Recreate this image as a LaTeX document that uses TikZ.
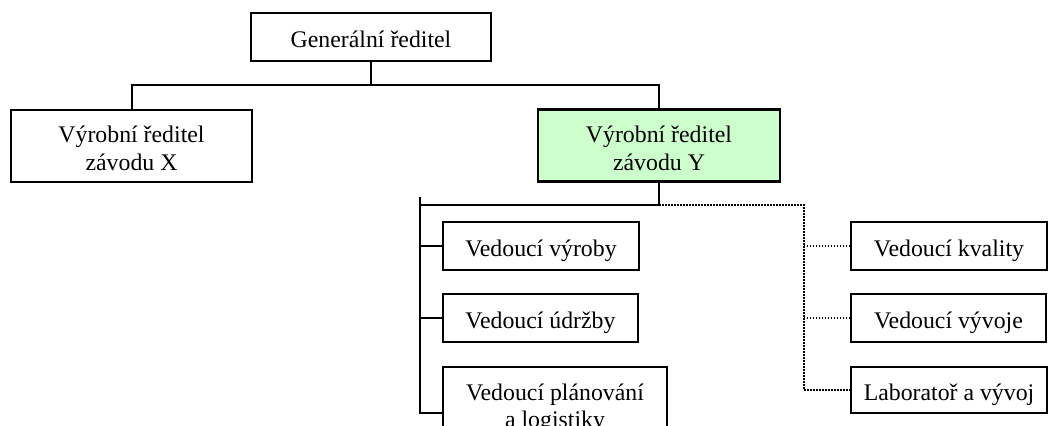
\documentclass[tikz,border=0pt]{standalone}
\usepackage{fontspec}
\setmainfont{Liberation Serif}
% one line of box text, baseline set a fixed distance below the box centre
\newcommand{\oneline}[1]{\raisebox{-10.5pt}[0pt][0pt]{#1}}
% two centred lines of box text, first baseline just above the box centre
\newcommand{\twolines}[2]{\raisebox{3pt}[0pt][0pt]{\begin{tabular}[t]{@{}c@{}}#1\\#2\end{tabular}}}
\begin{document}
\begin{tikzpicture}[x=1pt,y=-1pt,
  orgbox/.style={draw=black, line width=2pt, fill=white, inner sep=0pt,
    font=\fontsize{23.8}{27.5}\selectfont},
  chosen/.style={orgbox, fill=green!20, line width=2.8pt},
  link/.style={line width=2pt},
  staff/.style={line width=1.5pt, dash pattern=on 1.5pt off 1.5pt}]
  \clip (0,0) rectangle (1053,426);
  \fill[white] (0,0) rectangle (1053,426);

  % top level
  \node[orgbox, minimum width=240pt, minimum height=48pt] (gr) at (371,37) {\oneline{Generální ředitel}};
  \node[orgbox, minimum width=241pt, minimum height=72pt] (vx) at (131.5,145.5) {\twolines{Výrobní ředitel}{závodu X}};
  \node[chosen, minimum width=242pt, minimum height=72pt] (vy) at (659,145.5) {\twolines{Výrobní ředitel}{závodu Y}};

  % line subordinates
  \node[orgbox, minimum width=196pt, minimum height=48pt] (vv) at (541,246) {\oneline{Vedoucí výroby}};
  \node[orgbox, minimum width=195pt, minimum height=48pt] (vu) at (540.5,318) {\oneline{Vedoucí údržby}};
  \node[orgbox, minimum width=224pt, minimum height=72pt] (vp) at (555,403) {\twolines{Vedoucí plánování}{a logistiky}};

  % staff units
  \node[orgbox, minimum width=196pt, minimum height=48pt] (vk) at (949,246) {\oneline{Vedoucí kvality}};
  \node[orgbox, minimum width=195pt, minimum height=48pt] (vr) at (948.5,318) {\oneline{Vedoucí vývoje}};
  \node[orgbox, minimum width=196pt, minimum height=46pt] (lab) at (949,390) {\oneline{Laboratoř a vývoj}};

  % junction points
  \coordinate (j1) at (371,85);
  \coordinate (j2) at (659,205);
  \coordinate (btop) at (420,197);
  \coordinate (bbot) at (420,413);
  \coordinate (stop) at (804,205);

  % top connectors
  \draw[link] (gr.south) -- (j1);
  \draw[link] (vx.north) |- (j1) -| (vy.north);

  % line bracket
  \draw[link] (vy.south) -- (j2) -- (j2 -| btop);
  \draw[link] (btop) -- (bbot) -- (bbot -| vp.west);
  \draw[link] (vv.west) -- (vv.west -| btop);
  \draw[link] (vu.west) -- (vu.west -| btop);

  % staff bracket
  \draw[staff] (j2) -- (stop) |- (lab.west);
  \draw[staff] (vk.west) -- (vk.west -| stop);
  \draw[staff] (vr.west) -- (vr.west -| stop);
\end{tikzpicture}
\end{document}
